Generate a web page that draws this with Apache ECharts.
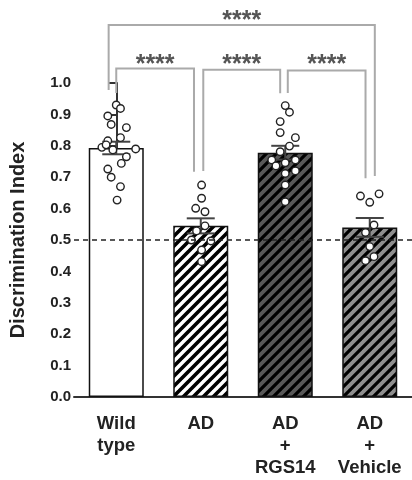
<!DOCTYPE html>
<html><head><meta charset="utf-8">
<script src="https://cdn.jsdelivr.net/npm/echarts@6/dist/echarts.min.js"></script>
<style>html,body{margin:0;padding:0;background:#fff}#c{width:412px;height:480px}</style>
</head><body><div id="c"></div>
<script>
// ---- data ----
const categories = ['Wild\ntype', 'AD', 'AD\n+\nRGS14', 'AD\n+\nVehicle'];
const means = [0.793, 0.545, 0.778, 0.540];
const sems = [0.020, 0.024, 0.022, 0.030];
const wtPoints = [0.930, 0.919, 0.895, 0.868, 0.858, 0.826, 0.816, 0.795, 0.787, 0.790, 0.803, 0.765, 0.744, 0.726, 0.700, 0.670, 0.627];
const wtJitter = [0.00, 0.05, -0.10, -0.06, 0.12, 0.05, -0.10, -0.17, -0.04, 0.23, -0.12, 0.12, 0.06, -0.10, -0.06, 0.05, 0.01];
const adPoints = [0.675, 0.633, 0.601, 0.590, 0.545, 0.529, 0.500, 0.497, 0.468, 0.431];
const adJitter = [0.01, 0.01, -0.06, 0.05, 0.05, -0.05, -0.11, 0.12, 0.01, 0.01];
const rgsPoints = [0.928, 0.907, 0.877, 0.842, 0.826, 0.799, 0.781, 0.755, 0.755, 0.746, 0.736, 0.712, 0.720, 0.675, 0.622];
const rgsJitter = [0.00, 0.05, -0.06, -0.06, 0.12, 0.05, -0.06, -0.16, 0.12, 0.00, -0.11, 0.00, 0.12, 0.00, 0.00];
const vehPoints = [0.640, 0.620, 0.647, 0.548, 0.524, 0.479, 0.447, 0.434];
const vehJitter = [-0.11, 0.00, 0.11, 0.05, -0.05, 0.00, 0.05, -0.05];
const yTicks = [0.0, 0.1, 0.2, 0.3, 0.4, 0.5, 0.6, 0.7, 0.8, 0.9, 1.0];
const chanceLevel = 0.5;
// brackets: [xLeft, xRight, yTop, yLeftEnd, yRightEnd, yStars]
const brackets = [
  [-0.09, 3.06, 1.185, 0.978, 0.704, 1.196],
  [0.00, 0.92, 1.046, 0.968, 0.717, 1.057],
  [1.03, 1.94, 1.042, 0.720, 0.967, 1.057],
  [2.03, 2.95, 1.040, 0.968, 0.697, 1.057]
];
const bracketLabels = ['****', '****', '****', '****'];

// ---- patterns ----
function stripes(bg, size, lw) {
  const c = document.createElement('canvas');
  c.width = size; c.height = size;
  const g = c.getContext('2d');
  g.fillStyle = bg; g.fillRect(0, 0, size, size);
  g.strokeStyle = '#000'; g.lineWidth = lw;
  g.beginPath();
  for (let k = -1; k <= 1; k++) {
    g.moveTo(k * size - 1, size + 1);
    g.lineTo(k * size + size + 1, -1);
  }
  g.stroke();
  return { image: c, repeat: 'repeat' };
}
const fills = ['#ffffff', stripes('#ffffff', 10, 3.6), stripes('#595959', 10, 3.2), stripes('#8e8e8e', 10, 3.2)];

const groups = [[wtPoints, wtJitter], [adPoints, adJitter], [rgsPoints, rgsJitter], [vehPoints, vehJitter]];
const scatterData = [];
groups.forEach((g, i) => g[0].forEach((v, j) => scatterData.push([i + g[1][j], v])));

const txt = '#222';
const font = 'Liberation Sans';
const chart = echarts.init(document.getElementById('c'), null, { renderer: 'canvas' });
chart.setOption({
  animation: false,
  backgroundColor: '#fff',
  grid: { left: 72, top: 83, width: 344, bottom: 83, containLabel: false },
  xAxis: [{
    type: 'category', data: categories,
    axisLine: { lineStyle: { color: '#333', width: 2 } },
    axisTick: { alignWithLabel: true, length: 7, lineStyle: { color: '#333', width: 2 } },
    axisLabel: { color: txt, fontFamily: font, fontWeight: 'bold', fontSize: 18.5, lineHeight: 22, margin: 16, interval: 0 }
  }, {
    type: 'value', min: -0.5, max: 3.5, show: false
  }],
  yAxis: {
    type: 'value', min: 0, max: 1.0, interval: 0.1,
    name: 'Discrimination Index', nameLocation: 'middle', nameGap: 46,
    nameTextStyle: { color: txt, fontFamily: font, fontWeight: 'bold', fontSize: 20 },
    axisLine: { show: true, lineStyle: { color: '#333', width: 2 } },
    axisTick: { show: true, length: 8, lineStyle: { color: '#333', width: 2 } },
    axisLabel: { color: txt, fontFamily: font, fontWeight: 'bold', fontSize: 15, margin: 3,
      formatter: v => v.toFixed(1) },
    splitLine: { show: false }
  },
  series: [
    {
      type: 'bar', barWidth: 55,
      data: means.map((m, i) => ({ value: m, itemStyle: { color: fills[i] } })),
      itemStyle: { borderColor: '#111', borderWidth: 1.5 },
      markLine: {
        silent: true, symbol: ['none', 'none'], label: { show: false },
        lineStyle: { color: '#222', type: [5, 4], width: 1.5 },
        data: [{ yAxis: chanceLevel }]
      },
      z: 2
    },
    {
      type: 'custom', z: 3,
      data: means.map((m, i) => [i, m, sems[i]]),
      renderItem(params, api) {
        const i = api.value(0), m = api.value(1), s = api.value(2);
        const hi = api.coord([i, m + s]), lo = api.coord([i, m - s]);
        const hw = 14;
        const st = { stroke: '#444', lineWidth: 2 };
        return { type: 'group', children: [
          { type: 'line', shape: { x1: hi[0], y1: hi[1], x2: lo[0], y2: lo[1] }, style: st },
          { type: 'line', shape: { x1: hi[0] - hw, y1: hi[1], x2: hi[0] + hw, y2: hi[1] }, style: st },
          { type: 'line', shape: { x1: lo[0] - hw, y1: lo[1], x2: lo[0] + hw, y2: lo[1] }, style: st }
        ] };
      }
    },
    {
      type: 'scatter', xAxisIndex: 1, z: 4,
      data: scatterData, symbol: 'circle', symbolSize: 7.5,
      itemStyle: { color: '#fff', borderColor: '#222', borderWidth: 1.4, opacity: 1 }
    },
    {
      type: 'custom', xAxisIndex: 1, clip: false, z: 5,
      data: brackets,
      renderItem(params, api) {
        const b = brackets[params.dataIndex];
        const p1 = api.coord([b[0], b[3]]), p2 = api.coord([b[0], b[2]]);
        const p3 = api.coord([b[1], b[2]]), p4 = api.coord([b[1], b[4]]);
        const t = api.coord([(b[0] + b[1]) / 2, b[5]]);
        return { type: 'group', children: [
          { type: 'polyline', shape: { points: [p1, p2, p3, p4] }, style: { stroke: '#aaa', lineWidth: 2, fill: null } },
          { type: 'text', x: t[0], y: t[1], style: { text: bracketLabels[params.dataIndex], align: 'center', verticalAlign: 'middle',
            fontFamily: font, fontWeight: 'bold', fontSize: 25, fill: '#555' } }
        ] };
      }
    }
  ]
});
</script></body></html>
